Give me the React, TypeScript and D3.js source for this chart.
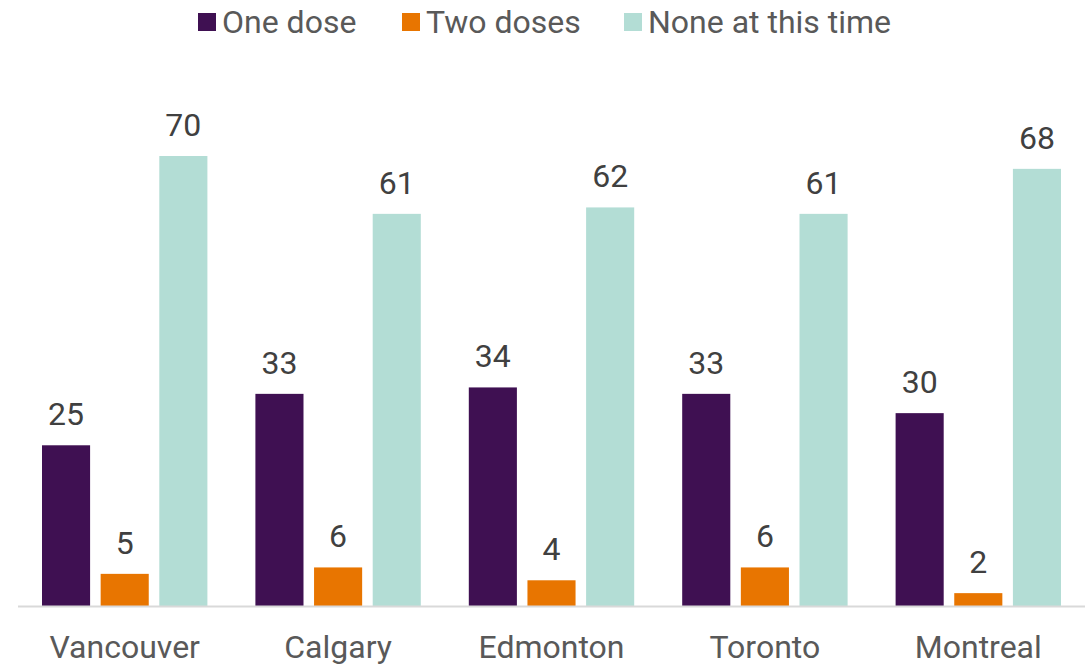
import React from "react";
import * as d3 from "d3";

const categories = ["Vancouver", "Calgary", "Edmonton", "Toronto", "Montreal"];
const seriesNames = ["One dose", "Two doses", "None at this time"];
const oneDose = [25, 33, 34, 33, 30];
const twoDoses = [5, 6, 4, 6, 2];
const noneAtThisTime = [70, 61, 62, 61, 68];
const colors = ["#3F1052", "#E87500", "#B3DDD5"];

const W = 1091;
const H = 665;

export default function App() {
  const series = [oneDose, twoDoses, noneAtThisTime];
  const x0 = d3.scaleBand<string>().domain(categories).range([18, 1085]).paddingInner(0).paddingOuter(0);
  const x1 = d3
    .scaleBand<number>()
    .domain([0, 1, 2])
    .range([24, x0.bandwidth() - 24])
    .paddingInner(0.18);
  const y = d3.scaleLinear().domain([0, 70]).range([606, 156]);
  const font = "Roboto, 'Noto Sans', sans-serif";
  const legendX = [198, 402, 624];

  return (
    <svg width={W} height={H} style={{ position: "absolute", left: 0, top: 0 }}>
      <rect width={W} height={H} fill="#fff" />
      {seriesNames.map((name, i) => (
        <g key={name}>
          <rect x={legendX[i]} y={13} width={18} height={18} fill={colors[i]} />
          <text x={legendX[i] + 24} y={33} fontFamily={font} fontSize={32} fill="#595959">
            {name}
          </text>
        </g>
      ))}
      {categories.map((c, ci) => (
        <g key={c} transform={`translate(${x0(c)},0)`}>
          {series.map((s, si) => (
            <g key={si}>
              <rect
                x={x1(si)}
                y={y(s[ci])}
                width={x1.bandwidth()}
                height={y(0) - y(s[ci])}
                fill={colors[si]}
              />
              <text
                x={(x1(si) as number) + x1.bandwidth() / 2}
                y={y(s[ci]) - 20}
                textAnchor="middle"
                fontFamily={font}
                fontSize={32}
                fill="#404040"
              >
                {s[ci]}
              </text>
            </g>
          ))}
          <text
            x={x0.bandwidth() / 2}
            y={658}
            textAnchor="middle"
            fontFamily={font}
            fontSize={32}
            fill="#595959"
          >
            {c}
          </text>
        </g>
      ))}
      <line x1={18} x2={1085} y1={606.5} y2={606.5} stroke="#D9D9D9" strokeWidth={2} />
    </svg>
  );
}
